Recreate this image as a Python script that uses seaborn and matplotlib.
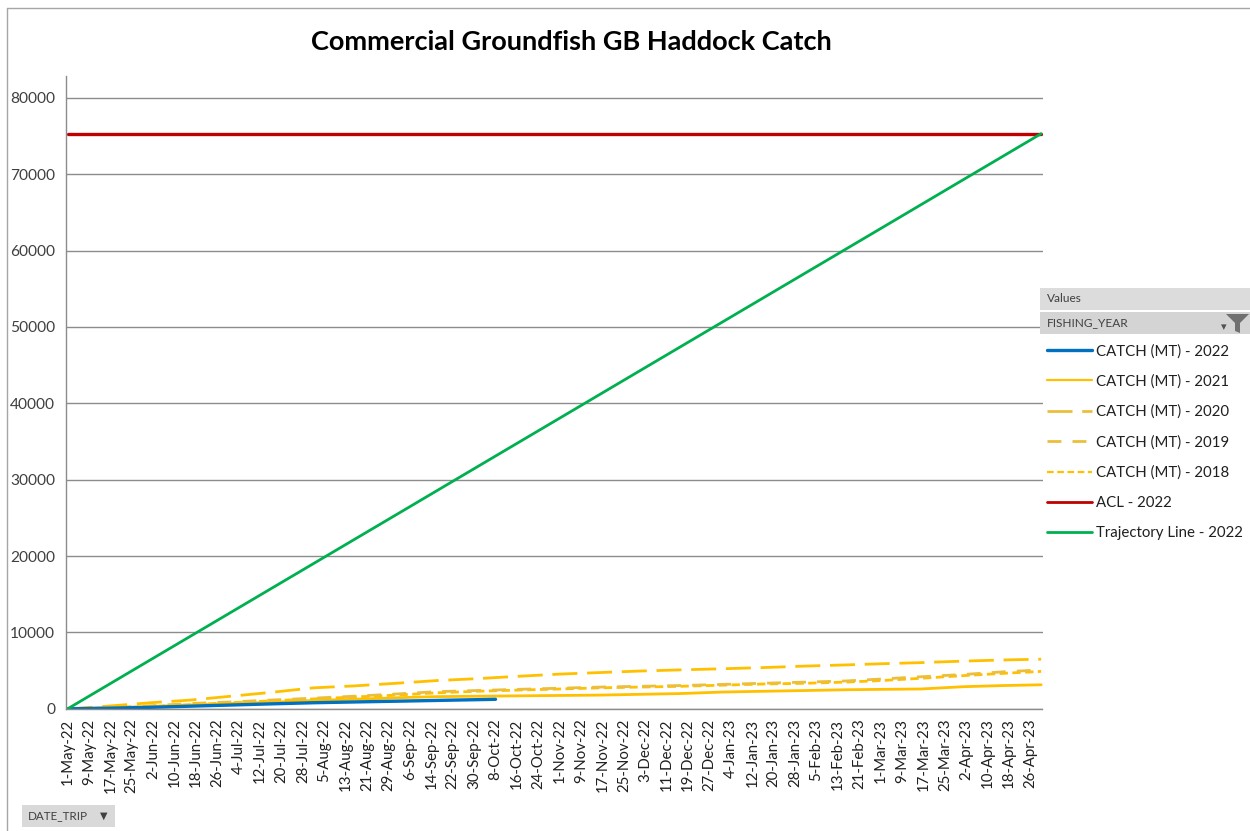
import numpy as np
import pandas as pd
import matplotlib
matplotlib.use("Agg")
import matplotlib.pyplot as plt
import matplotlib.patches as mpatches
from matplotlib.lines import Line2D
import seaborn as sns

# ---------------- data ----------------
catch_dates = ["2022-05-01", "2022-05-16", "2022-06-01", "2022-06-16", "2022-07-01",
               "2022-07-16", "2022-08-01", "2022-08-16", "2022-09-01", "2022-09-16",
               "2022-10-01", "2022-10-16", "2022-11-01", "2022-11-16", "2022-12-01",
               "2022-12-16", "2023-01-01", "2023-01-16", "2023-02-01", "2023-02-16",
               "2023-03-01", "2023-03-16", "2023-04-01", "2023-04-16", "2023-04-30"]
catch_2021 = [0, 100, 300, 500, 700, 850, 1100, 1250, 1450, 1600, 1650, 1700, 1750,
              1800, 1900, 2000, 2200, 2300, 2400, 2500, 2550, 2600, 2900, 3050, 3150]
catch_2020 = [0, 350, 800, 1150, 1650, 2150, 2750, 3000, 3350, 3700, 3950, 4250, 4550,
              4750, 4950, 5100, 5250, 5400, 5600, 5750, 5900, 6050, 6250, 6400, 6500]
catch_2019 = [0, 150, 400, 700, 900, 1150, 1400, 1650, 1950, 2250, 2400, 2550, 2700,
              2850, 2950, 3050, 3200, 3350, 3500, 3650, 3900, 4200, 4500, 4850, 5100]
catch_2018 = [0, 100, 300, 550, 800, 1050, 1300, 1550, 1800, 2100, 2300, 2450, 2600,
              2750, 2850, 2950, 3100, 3250, 3350, 3500, 3700, 4000, 4350, 4650, 4900]

dates_2022 = ["2022-05-01", "2022-05-16", "2022-06-01", "2022-06-16", "2022-07-01",
              "2022-07-16", "2022-08-01", "2022-08-16", "2022-09-01", "2022-09-16",
              "2022-10-01", "2022-10-08"]
catch_2022 = [0, 80, 200, 350, 500, 650, 800, 900, 1000, 1100, 1200, 1250]

traj_dates = ["2022-05-01", "2022-06-01", "2022-07-01", "2022-08-01", "2022-09-01",
              "2022-10-01", "2022-11-01", "2022-12-01", "2023-01-01", "2023-02-01",
              "2023-03-01", "2023-04-01", "2023-04-30"]
trajectory_2022 = [0, 6420, 12620, 19030, 25440, 31650, 38060, 44270, 50680, 57090,
                   62880, 69300, 75300]

acl_dates = ["2022-05-01", "2023-04-30"]
acl_2022 = [75300, 75300]

y_ticks = [0, 10000, 20000, 30000, 40000, 50000, 60000, 70000, 80000]

legend_labels = ["CATCH (MT) - 2022", "CATCH (MT) - 2021", "CATCH (MT) - 2020",
                 "CATCH (MT) - 2019", "CATCH (MT) - 2018", "ACL - 2022",
                 "Trajectory Line - 2022"]

# ---------------- style ----------------
sns.set_theme(style="white")
plt.rcParams["font.family"] = ["Lato", "DejaVu Sans"]

BLUE = "#0070C0"
YELLOW = "#FFC000"
GOLD = "#EBBE3C"
RED = "#C00000"
GREEN = "#00B050"
GRID = "#8C8C8C"

fig = plt.figure(figsize=(12.5, 8.31), dpi=100)
ax = fig.add_axes([0.053, 0.147, 0.781, 0.762])

def D(lst):
    return pd.to_datetime(lst)

series = [
    (D(catch_dates), catch_2018, YELLOW, 2.0, (0, (3, 1.6))),
    (D(catch_dates), catch_2019, GOLD, 2.0, (0, (5, 4))),
    (D(catch_dates), catch_2020, YELLOW, 2.0, (0, (9, 3.5))),
    (D(catch_dates), catch_2021, YELLOW, 2.0, "-"),
    (D(dates_2022), catch_2022, BLUE, 2.4, "-"),
    (D(acl_dates), acl_2022, RED, 2.4, "-"),
    (D(traj_dates), trajectory_2022, GREEN, 2.0, "-"),
]
for x, y, c, lw, ls in series:
    sns.lineplot(x=x, y=y, ax=ax, color=c, lw=lw, linestyle=ls, legend=False)

# axes
start = pd.Timestamp("2022-05-01")
end = pd.Timestamp("2023-04-30")
ax.set_xlim(start - pd.Timedelta(hours=12), end + pd.Timedelta(hours=12))
ax.set_ylim(0, 82900)
ax.set_yticks(y_ticks)
ax.set_yticklabels([str(v) for v in y_ticks], fontsize=11.2, color="#404040")
ax.yaxis.grid(True, color=GRID, lw=1.0)
ax.xaxis.grid(False)

major = pd.date_range(start, end, freq="8D")
ax.set_xticks(major)
ax.set_xticklabels([f"{d.day}-{d.strftime('%b-%y')}" for d in major],
                   rotation=90, fontsize=10.8, color="#202020")
minor = pd.date_range(start, end, freq="D")
ax.set_xticks(minor, minor=True)
ax.tick_params(axis="x", which="both", direction="out", length=5, width=0.8,
               color="#8C8C8C", pad=2)
ax.tick_params(axis="y", which="both", direction="out", length=5, width=0.8,
               color="#8C8C8C", pad=3)
ax.set_xlabel("")
ax.set_ylabel("")

for s in ["top", "right"]:
    ax.spines[s].set_visible(False)
ax.spines["left"].set_color("#8C8C8C")
ax.spines["bottom"].set_color("#8C8C8C")
ax.spines["left"].set_linewidth(1.0)
ax.spines["bottom"].set_linewidth(1.0)

# title
fig.text(0.457, 0.949, "Commercial Groundfish GB Haddock Catch", ha="center",
         va="center", fontsize=19.5, fontweight="bold", color="#000000")

# figure border (left / top)
fig.add_artist(Line2D([7 / 1250, 7 / 1250], [0, 1 - 8 / 831], transform=fig.transFigure,
                      color="#A6A6A6", lw=1))
fig.add_artist(Line2D([7 / 1250, 1], [1 - 8 / 831, 1 - 8 / 831], transform=fig.transFigure,
                      color="#A6A6A6", lw=1))

# legend header boxes
def fbox(x0, y0, x1, y1, fc):
    fig.add_artist(mpatches.Rectangle((x0 / 1250, 1 - y1 / 831), (x1 - x0) / 1250,
                                      (y1 - y0) / 831, transform=fig.transFigure,
                                      facecolor=fc, edgecolor="none"))

fbox(1040, 288, 1250, 310, "#DCDCDC")
fbox(1040, 312, 1250, 334, "#D4D4D4")
fig.text(1047 / 1250, 1 - 299 / 831, "Values", fontsize=8.6, color="#404040",
         va="center", ha="left")
fig.text(1047 / 1250, 1 - 323 / 831, "FISHING_YEAR", fontsize=8.6, color="#404040",
         va="center", ha="left")
funnel = mpatches.Polygon([[1226 / 1250, 1 - 314 / 831], [1249 / 1250, 1 - 314 / 831],
                           [1240 / 1250, 1 - 323 / 831], [1240 / 1250, 1 - 333 / 831],
                           [1235 / 1250, 1 - 331 / 831], [1235 / 1250, 1 - 323 / 831]],
                          closed=True, transform=fig.transFigure, facecolor="#707070",
                          edgecolor="none")
fig.add_artist(funnel)
fig.text(1224 / 1250, 1 - 327 / 831, "▾", fontsize=8, color="#505050", va="center",
         ha="center", family="DejaVu Sans")

handles = [
    Line2D([], [], color=BLUE, lw=2.4),
    Line2D([], [], color=YELLOW, lw=1.6),
    Line2D([], [], color=GOLD, lw=2.0, linestyle=(0, (9, 3.5))),
    Line2D([], [], color=GOLD, lw=2.0, linestyle=(0, (5, 4))),
    Line2D([], [], color=YELLOW, lw=1.6, linestyle=(0, (3, 1.6))),
    Line2D([], [], color=RED, lw=2.0),
    Line2D([], [], color=GREEN, lw=2.0),
]
leg = fig.legend(handles, legend_labels, loc="upper left",
                 bbox_to_anchor=(1044 / 1250, 1 - 341 / 831), frameon=False,
                 fontsize=10.8, handlelength=3.0, handletextpad=0.3,
                 labelspacing=1.07, borderaxespad=0, borderpad=0.2)
for t in leg.get_texts():
    t.set_color("#202020")

# DATE_TRIP field button
fbox(22, 805, 115, 827, "#D9D9D9")
fig.text(28 / 1250, 1 - 816 / 831, "DATE_TRIP", fontsize=8.4, color="#404040",
         va="center", ha="left")
fig.text(104 / 1250, 1 - 816 / 831, "▼", fontsize=7, color="#404040", va="center",
         ha="center", family="DejaVu Sans")

fig.savefig("out.png", dpi=100, facecolor="white")
